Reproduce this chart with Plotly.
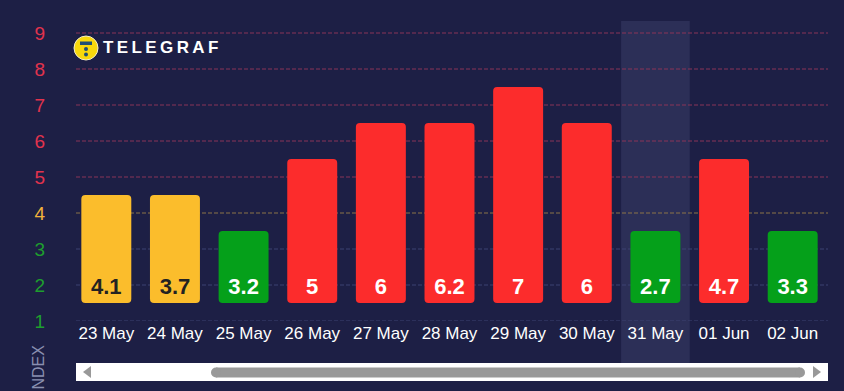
import plotly.graph_objects as go

# ---- data ----
dates = ["23 May", "24 May", "25 May", "26 May", "27 May", "28 May",
         "29 May", "30 May", "31 May", "01 Jun", "02 Jun"]
index_values = [4.1, 3.7, 3.2, 5, 6, 6.2, 7, 6, 2.7, 4.7, 3.3]
levels = [4, 4, 3, 5, 6, 6, 7, 6, 3, 5, 3]
y_ticks = [1, 2, 3, 4, 5, 6, 7, 8, 9]
highlight_date = "31 May"

# ---- styles ----
BG = "#1d1f45"
RED = "#fc2c2c"
ORANGE = "#fbbd2c"
GREEN = "#05a01a"
TICK_RED = "#e2334d"
TICK_ORANGE = "#f2b23a"
TICK_GREEN = "#1e9e2e"

W, H = 844, 391
ML, MR, MT, MB = 72, 17, 21, 70
PW = W - ML - MR
PH = H - MT - MB


def px(x):
    return (x - ML) / PW


def py(y):
    return (H - MB - y) / PH


def level_color(l):
    if l <= 3:
        return GREEN
    if l == 4:
        return ORANGE
    return RED


def tick_color(t):
    if t <= 3:
        return TICK_GREEN
    if t == 4:
        return TICK_ORANGE
    return TICK_RED


def grid_color(t):
    if t <= 3:
        return "#3d4372"
    if t == 4:
        return "#8c7448"
    return "#8a3458"


BASE = 1.5
bar_colors = [level_color(l) for l in levels]
text_colors = ["#222222" if c == ORANGE else "#ffffff" for c in bar_colors]

fig = go.Figure()
fig.add_trace(go.Bar(
    x=dates,
    y=[l + 0.5 - BASE for l in levels],
    base=BASE,
    marker=dict(color=bar_colors, line=dict(width=0), cornerradius=4),
    text=[f"{v:g}" for v in index_values],
    textposition="inside",
    insidetextanchor="start",
    textangle=0,
    constraintext="none",
    textfont=dict(family="Arial, Liberation Sans", size=22, color=text_colors, weight="bold"),
    hoverinfo="skip",
))

shapes = []
# highlight band
hi = dates.index(highlight_date)
shapes.append(dict(type="rect", xref="x", yref="paper", x0=hi - 0.5, x1=hi + 0.5,
                   y0=py(363), y1=1, fillcolor="#2c2f57", line=dict(width=0), layer="below"))
# gridlines
for t in y_ticks:
    shapes.append(dict(type="line", xref="paper", yref="y", x0=px(76), x1=px(828), y0=t, y1=t,
                       line=dict(color=grid_color(t), width=1, dash="4px,2px"), layer="below"))

# logo
shapes.append(dict(type="circle", xref="paper", yref="paper",
                   x0=px(74), x1=px(98), y0=py(60), y1=py(36),
                   fillcolor="#f8d80c", line=dict(color="#f3eec8", width=1)))
shapes.append(dict(type="rect", xref="paper", yref="paper",
                   x0=px(80), x1=px(92), y0=py(45), y1=py(41.5),
                   fillcolor="#1f4f74", line=dict(width=0)))
for cy in (49, 54.5):
    shapes.append(dict(type="circle", xref="paper", yref="paper",
                       x0=px(84), x1=px(88), y0=py(cy + 2), y1=py(cy - 2),
                       fillcolor="#1f4f74", line=dict(width=0)))

# scrollbar
shapes.append(dict(type="rect", xref="paper", yref="paper", x0=px(76), x1=px(828),
                   y0=py(381), y1=py(363), fillcolor="#ffffff", line=dict(width=0)))
shapes.append(dict(type="rect", xref="paper", yref="paper", x0=px(216), x1=px(800),
                   y0=py(377.5), y1=py(367.5), fillcolor="#999999", line=dict(width=0)))
for cx in (216, 800):
    shapes.append(dict(type="circle", xref="paper", yref="paper", x0=px(cx - 5), x1=px(cx + 5),
                       y0=py(377.5), y1=py(367.5), fillcolor="#999999", line=dict(width=0)))
shapes.append(dict(type="path", xref="paper", yref="paper",
                   path=f"M {px(83)} {py(372)} L {px(91)} {py(366)} L {px(91)} {py(378)} Z",
                   fillcolor="#999999", line=dict(width=0)))
shapes.append(dict(type="path", xref="paper", yref="paper",
                   path=f"M {px(821)} {py(372)} L {px(813)} {py(366)} L {px(813)} {py(378)} Z",
                   fillcolor="#999999", line=dict(width=0)))

annotations = [
    dict(text="\u2009".join("TELEGRAF"), xref="paper", yref="paper", x=px(101), y=py(48),
         xanchor="left", yanchor="middle", showarrow=False,
         font=dict(family="Arial, Liberation Sans", size=17, color="#ffffff", weight="bold")),
    dict(text="INDEX", xref="paper", yref="paper", x=px(38), y=py(370), textangle=-90,
         xanchor="center", yanchor="middle", showarrow=False,
         font=dict(family="Arial, Liberation Sans", size=16, color="#8a8fb0")),
]

fig.update_layout(
    width=W, height=H,
    margin=dict(l=ML, r=MR, t=MT, b=MB),
    paper_bgcolor=BG, plot_bgcolor=BG,
    showlegend=False,
    bargap=0.272,
    shapes=shapes,
    annotations=annotations,
    xaxis=dict(type="category", range=[-0.5, len(dates) - 0.5], showgrid=False, zeroline=False,
               showline=False, ticks="", ticklabelstandoff=0,
               tickfont=dict(family="Arial, Liberation Sans", size=17, color="#ffffff")),
    yaxis=dict(range=[1, 9 + 1 / 3], showgrid=False, zeroline=False, showline=False, ticks="",
               tickvals=y_ticks,
               ticktext=[f"<span style='color:{tick_color(t)}'>{t}</span>" for t in y_ticks],
               ticklabelstandoff=26,
               tickfont=dict(family="Arial, Liberation Sans", size=19)),
)

fig.write_html(
    "out.html",
    config={"displayModeBar": False},
    post_script="document.body.style.margin='0';document.body.style.overflow='hidden';"
                "document.body.style.background='" + BG + "';",
)
